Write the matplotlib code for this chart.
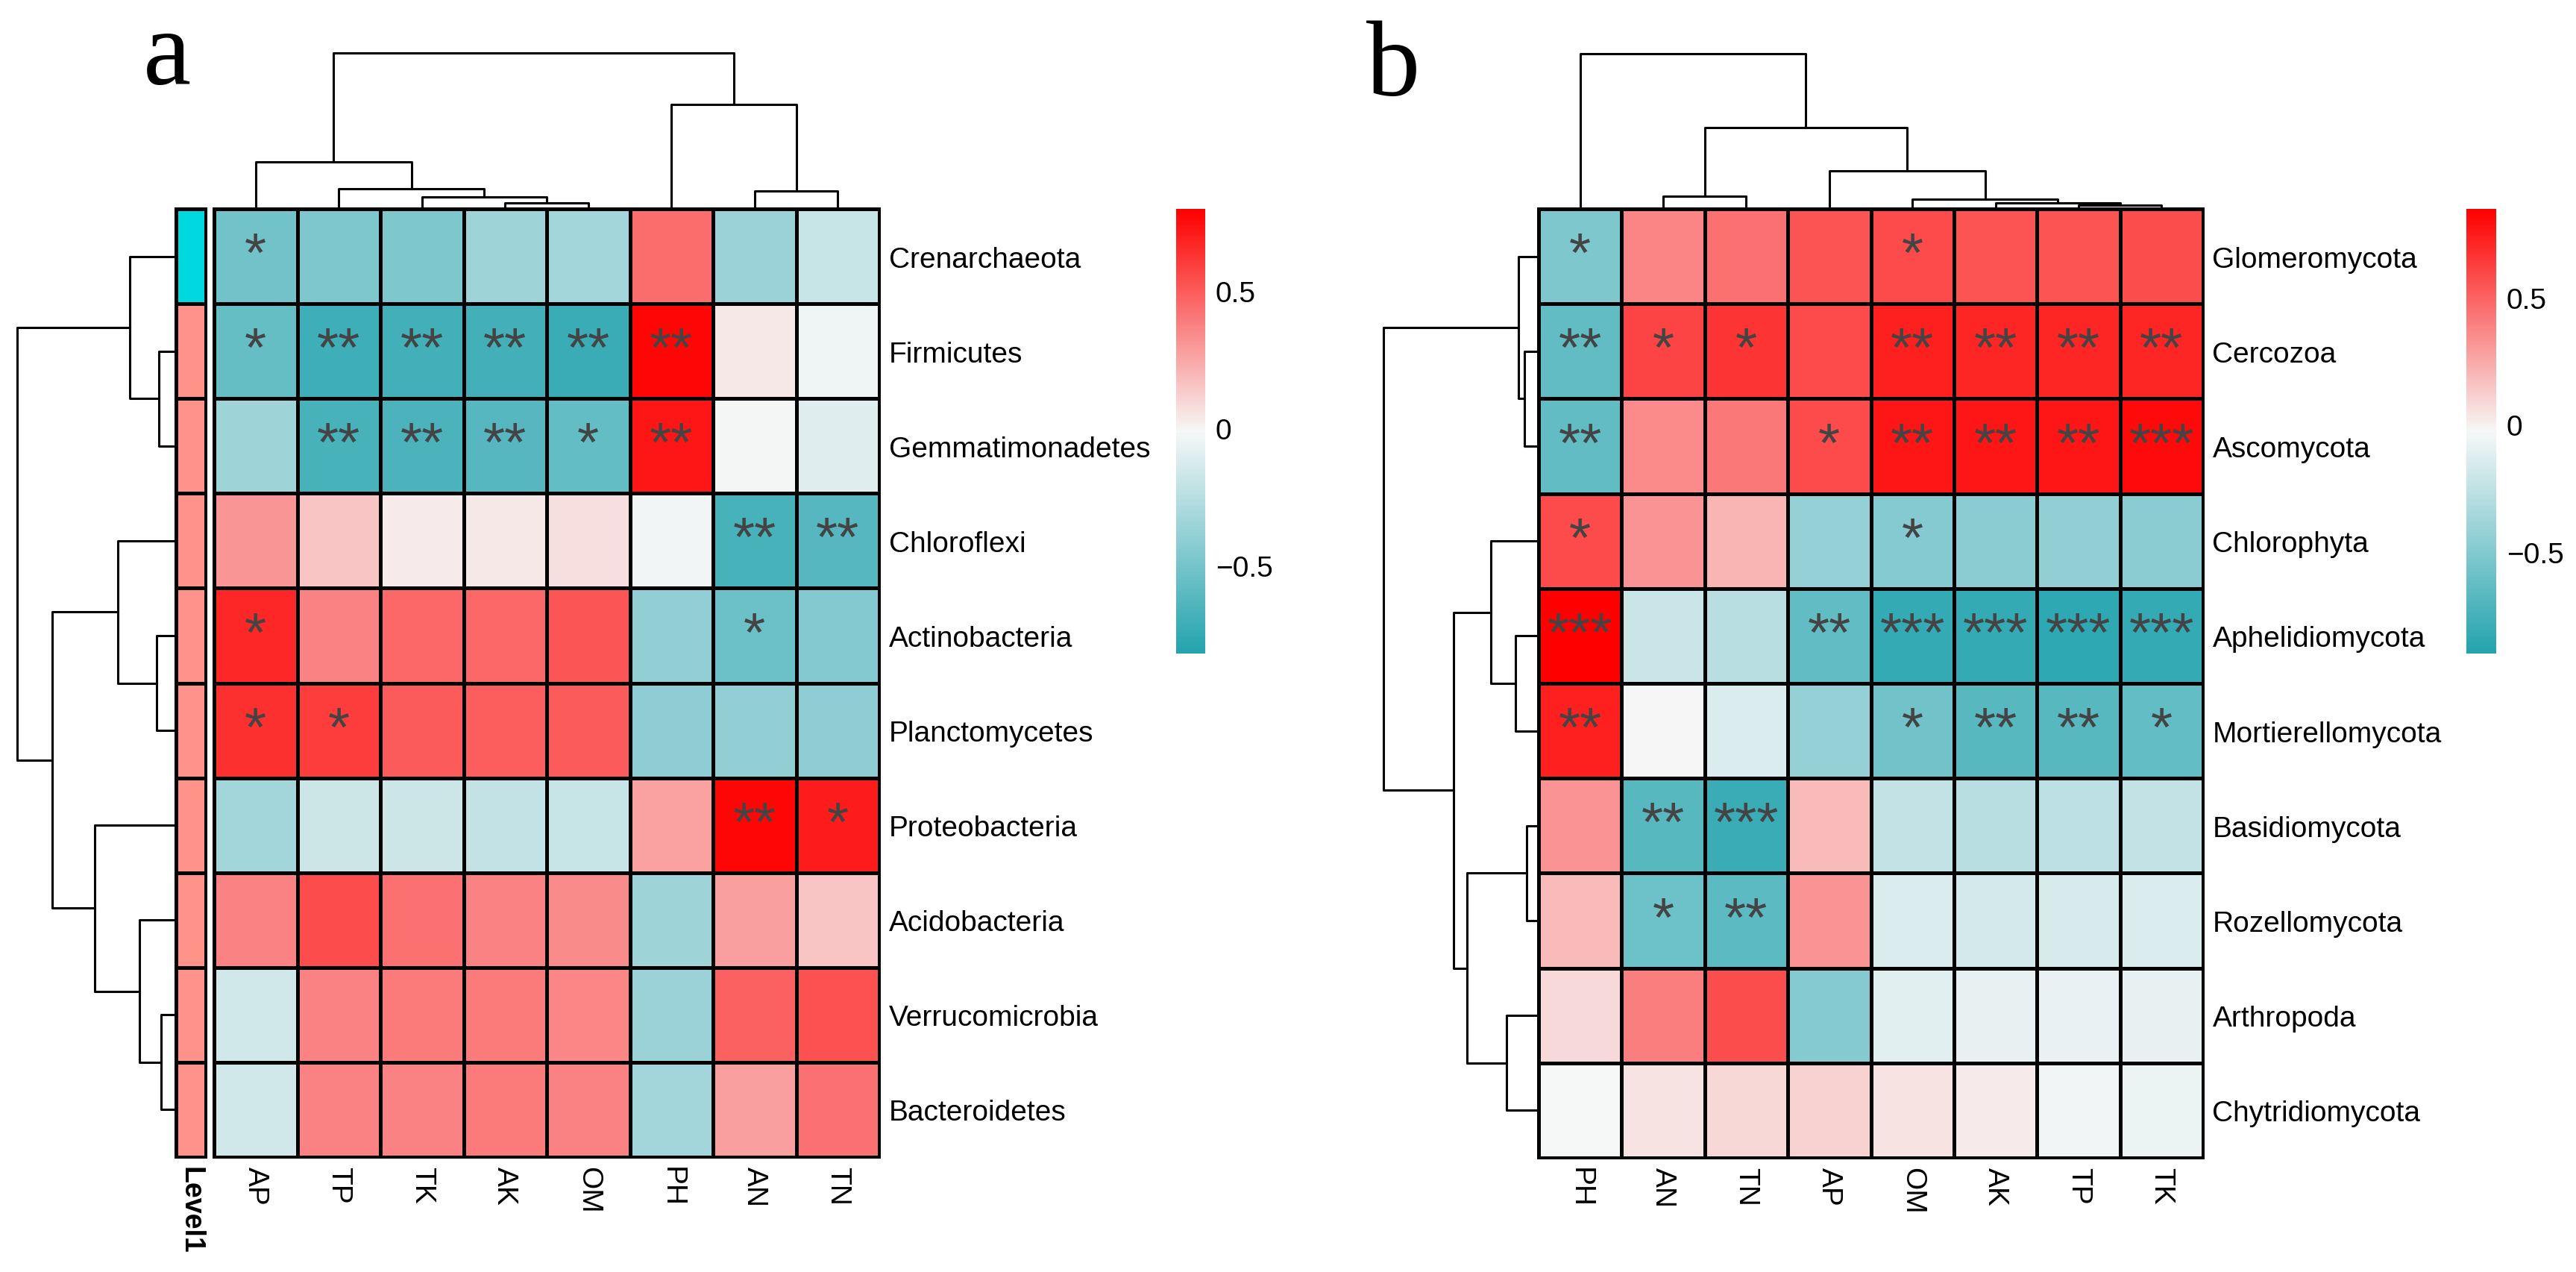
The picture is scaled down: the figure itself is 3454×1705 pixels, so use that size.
import numpy as np
import matplotlib
matplotlib.use("Agg")
import matplotlib.pyplot as plt
from matplotlib.colors import LinearSegmentedColormap, ListedColormap, Normalize
from matplotlib.cm import ScalarMappable

plt.rcParams['font.family'] = ['Liberation Sans', 'DejaVu Sans']

W, H, DPI = 3454, 1706, 200

# ---- panel a : bacteria ----
a_rows = ['Crenarchaeota', 'Firmicutes', 'Gemmatimonadetes', 'Chloroflexi',
          'Actinobacteria', 'Planctomycetes', 'Proteobacteria', 'Acidobacteria',
          'Verrucomicrobia', 'Bacteroidetes']
a_cols = ['AP', 'TP', 'TK', 'AK', 'OM', 'PH', 'AN', 'TN']
a_values = [
    [-0.52, -0.47, -0.47, -0.35, -0.33, 0.44, -0.36, -0.19],
    [-0.56, -0.71, -0.69, -0.69, -0.73, 0.78, 0.04, -0.04],
    [-0.35, -0.67, -0.66, -0.62, -0.57, 0.73, -0.02, -0.10],
    [0.31, 0.16, 0.03, 0.04, 0.07, -0.03, -0.67, -0.62],
    [0.67, 0.37, 0.46, 0.46, 0.52, -0.39, -0.54, -0.45],
    [0.64, 0.60, 0.50, 0.49, 0.50, -0.41, -0.39, -0.41],
    [-0.33, -0.17, -0.17, -0.21, -0.19, 0.27, 0.78, 0.71],
    [0.37, 0.55, 0.43, 0.37, 0.34, -0.35, 0.28, 0.16],
    [-0.16, 0.37, 0.40, 0.40, 0.36, -0.36, 0.48, 0.53],
    [-0.16, 0.37, 0.37, 0.40, 0.37, -0.33, 0.28, 0.43],
]
a_stars = [
    ['*', '', '', '', '', '', '', ''],
    ['*', '**', '**', '**', '**', '**', '', ''],
    ['', '**', '**', '**', '*', '**', '', ''],
    ['', '', '', '', '', '', '**', '**'],
    ['*', '', '', '', '', '', '*', ''],
    ['*', '*', '', '', '', '', '', ''],
    ['', '', '', '', '', '', '**', '*'],
    ['', '', '', '', '', '', '', ''],
    ['', '', '', '', '', '', '', ''],
    ['', '', '', '', '', '', '', ''],
]
a_level = [1, 0, 0, 0, 0, 0, 0, 0, 0, 0]
a_range = (-0.82, 0.80)
a_row_merges = [(1, 2, 21), (4, 5, 24), (8, 9, 18), (0, 10, 60), (3, 11, 76),
                (7, 12, 47), (6, 15, 106), (14, 16, 163), (13, 17, 210)]
a_col_merges = [(3, 4, 8), (2, 8, 16), (1, 9, 27), (6, 7, 24), (0, 10, 63),
                (5, 11, 140), (12, 13, 209)]

# ---- panel b : eukaryotes ----
b_rows = ['Glomeromycota', 'Cercozoa', 'Ascomycota', 'Chlorophyta',
          'Aphelidiomycota', 'Mortierellomycota', 'Basidiomycota',
          'Rozellomycota', 'Arthropoda', 'Chytridiomycota']
b_cols = ['PH', 'AN', 'TN', 'AP', 'OM', 'AK', 'TP', 'TK']
b_values = [
    [-0.52, 0.38, 0.45, 0.55, 0.59, 0.55, 0.55, 0.57],
    [-0.64, 0.61, 0.66, 0.59, 0.74, 0.72, 0.72, 0.72],
    [-0.64, 0.36, 0.42, 0.59, 0.77, 0.77, 0.77, 0.81],
    [0.59, 0.33, 0.21, -0.43, -0.49, -0.47, -0.44, -0.47],
    [0.85, -0.21, -0.28, -0.64, -0.83, -0.83, -0.85, -0.83],
    [0.74, -0.02, -0.14, -0.43, -0.57, -0.68, -0.68, -0.63],
    [0.33, -0.68, -0.80, 0.19, -0.24, -0.28, -0.27, -0.24],
    [0.19, -0.59, -0.66, 0.33, -0.14, -0.17, -0.15, -0.14],
    [0.08, 0.40, 0.57, -0.49, -0.11, -0.09, -0.08, -0.09],
    [-0.03, 0.05, 0.09, 0.11, 0.05, 0.02, -0.05, -0.07],
]
b_stars = [
    ['*', '', '', '', '*', '', '', ''],
    ['**', '*', '*', '', '**', '**', '**', '**'],
    ['**', '', '', '*', '**', '**', '**', '***'],
    ['*', '', '', '', '*', '', '', ''],
    ['***', '', '', '**', '***', '***', '***', '***'],
    ['**', '', '', '', '*', '**', '**', '*'],
    ['', '**', '***', '', '', '', '', ''],
    ['', '*', '**', '', '', '', '', ''],
    ['', '', '', '', '', '', '', ''],
    ['', '', '', '', '', '', '', ''],
]
b_range = (-0.90, 0.85)
b_row_merges = [(1, 2, 19), (6, 7, 16), (0, 10, 27), (4, 5, 31), (8, 9, 43),
                (3, 13, 64), (11, 14, 96), (15, 16, 114), (12, 17, 208)]
b_col_merges = [(6, 7, 5), (5, 8, 8), (4, 9, 13), (1, 2, 17), (3, 10, 51),
                (11, 12, 109), (0, 13, 208)]

cbar_ticks = [-0.5, 0, 0.5]
cbar_labels = ['\u22120.5', '0', '0.5']

cmap = LinearSegmentedColormap.from_list('tw', ['#22A3AE', '#F7F7F7', '#FF0000'])
level_cmap = ListedColormap(['#FF9289', '#00D8DF'])

LW = 1.1
FS = 14


def box(x0, y0, x1, y1):
    # pixel box (top-left origin) -> figure fraction
    return [x0 / W, 1 - y1 / H, (x1 - x0) / W, (y1 - y0) / H]


def draw_dendrogram(ax, merges, n, side):
    pos = {i: i + 0.5 for i in range(n)}
    hgt = {i: 0.0 for i in range(n)}
    for k, (a, b, h) in enumerate(merges):
        xs = [pos[a], pos[a], pos[b], pos[b]]
        ys = [hgt[a], h, h, hgt[b]]
        if side == 'top':
            ax.plot(xs, ys, color='black', lw=LW, clip_on=False)
        else:
            ax.plot(ys, xs, color='black', lw=LW, clip_on=False)
        pos[n + k] = (pos[a] + pos[b]) / 2
        hgt[n + k] = h
    top = max(m[2] for m in merges)
    if side == 'top':
        ax.set_xlim(0, n)
        ax.set_ylim(0, top)
    else:
        ax.set_ylim(n, 0)
        ax.set_xlim(top, 0)
    ax.axis('off')


def draw_heatmap(ax, values, stars, rows, cols, norm):
    v = np.array(values)
    ax.pcolormesh(v, cmap=cmap, norm=norm, edgecolors='black', linewidth=LW)
    ax.set_xlim(0, v.shape[1])
    ax.set_ylim(v.shape[0], 0)
    for i, row in enumerate(stars):
        for j, s in enumerate(row):
            if s:
                ax.text(j + 0.5, i + 0.5, s, ha='center', va='center',
                        fontsize=27, color='#444444')
    ax.set_xticks(np.arange(len(cols)) + 0.5)
    ax.set_xticklabels(cols, rotation=-90, fontsize=FS)
    ax.yaxis.tick_right()
    ax.set_yticks(np.arange(len(rows)) + 0.5)
    ax.set_yticklabels(rows, fontsize=FS)
    ax.tick_params(length=0, pad=4.5)
    for sp in ax.spines.values():
        sp.set_linewidth(LW * 1.3)


def draw_colorbar(fig, rect, norm):
    cax = fig.add_axes(rect)
    cb = fig.colorbar(ScalarMappable(norm=norm, cmap=cmap), cax=cax, ticks=cbar_ticks)
    cb.outline.set_visible(False)
    cb.ax.set_yticklabels(cbar_labels)
    cb.ax.tick_params(length=0, labelsize=FS, pad=5)


fig = plt.figure(figsize=(W / DPI, H / DPI), dpi=DPI)

# panel a
a_norm = Normalize(*a_range)
ax = fig.add_axes(box(287, 281, 1179, 1552))
draw_heatmap(ax, a_values, a_stars, a_rows, a_cols, a_norm)
ax = fig.add_axes(box(236, 281, 276, 1552))
ax.pcolormesh(np.array(a_level)[:, None], cmap=level_cmap, vmin=0, vmax=1,
              edgecolors='black', linewidth=LW)
ax.set_xlim(0, 1)
ax.set_ylim(len(a_level), 0)
ax.set_yticks([])
ax.set_xticks([0.5])
ax.set_xticklabels(['Level1'], rotation=-90, fontsize=FS - 0.5, fontweight='bold')
ax.tick_params(length=0, pad=4.5)
for sp in ax.spines.values():
    sp.set_linewidth(LW * 1.3)
draw_dendrogram(fig.add_axes(box(23, 281, 234, 1552)), a_row_merges, 10, 'left')
draw_dendrogram(fig.add_axes(box(287, 72, 1179, 281)), a_col_merges, 8, 'top')
draw_colorbar(fig, box(1577, 281, 1616, 877), a_norm)
fig.text(224 / W, 1 - 113 / H, 'a', family='Liberation Serif', fontsize=52,
         ha='center', va='baseline')

# panel b
b_norm = Normalize(*b_range)
ax = fig.add_axes(box(2063, 281, 2954, 1553))
draw_heatmap(ax, b_values, b_stars, b_rows, b_cols, b_norm)
draw_dendrogram(fig.add_axes(box(1855, 281, 2063, 1553)), b_row_merges, 10, 'left')
draw_dendrogram(fig.add_axes(box(2063, 73, 2954, 281)), b_col_merges, 8, 'top')
draw_colorbar(fig, box(3307, 281, 3347, 877), b_norm)
fig.text(1868 / W, 1 - 128 / H, 'b', family='Liberation Serif', fontsize=52,
         ha='center', va='baseline')

fig.savefig('out.png', dpi=DPI)
